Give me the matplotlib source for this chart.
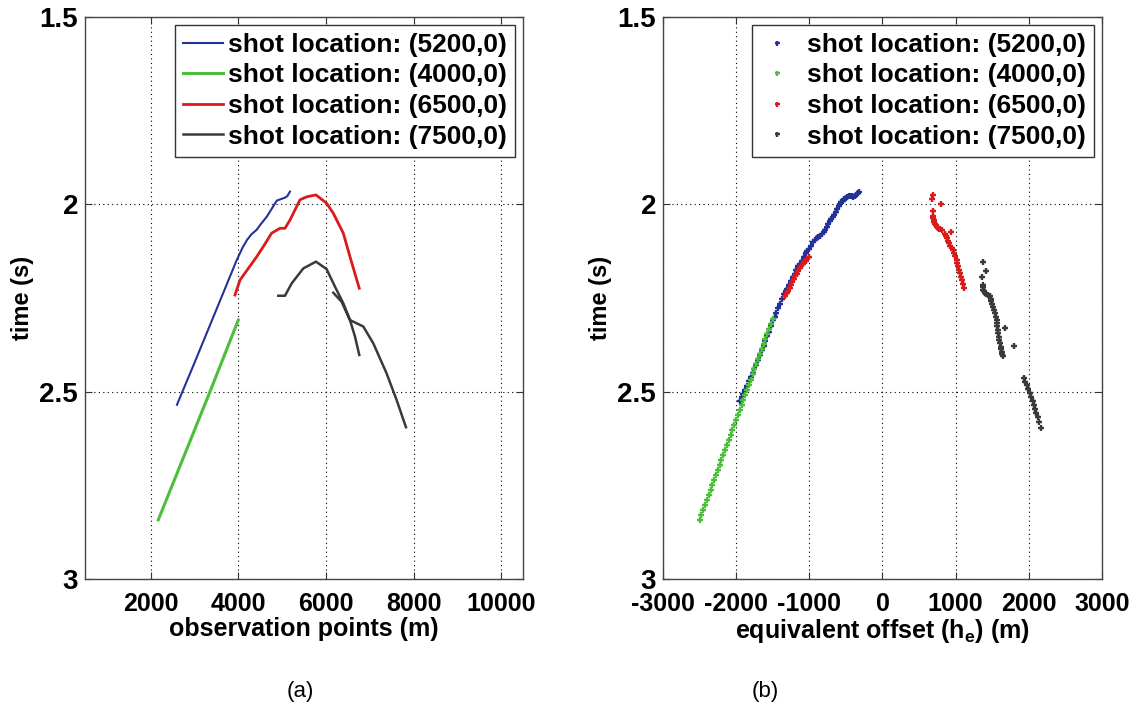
import matplotlib
matplotlib.use("Agg")
import matplotlib.pyplot as plt
import numpy as np

# ---- data ----
labels = ['shot location: (5200,0)', 'shot location: (4000,0)',
          'shot location: (6500,0)', 'shot location: (7500,0)']
colors = ['#23329a', '#4cbf3a', '#dd1a1a', '#3a3a3a']

# (a) observation points vs time
blue_x = [2600, 3000, 3500, 3960, 4100, 4200, 4300, 4420, 4500, 4650, 4800, 4880, 5000, 5070, 5120, 5180]
blue_t = [2.535, 2.423, 2.281, 2.150, 2.115, 2.095, 2.080, 2.068, 2.055, 2.033, 2.005, 1.990, 1.985, 1.982, 1.978, 1.966]

green_x = [2174, 3354, 4000]
green_t = [2.842, 2.500, 2.309]

red_x = [3925, 4039, 4419, 4571, 4761, 4952, 5066, 5180, 5408, 5561, 5774, 6016, 6169, 6397, 6550, 6762]
red_t = [2.242, 2.202, 2.140, 2.113, 2.077, 2.064, 2.064, 2.042, 1.988, 1.980, 1.975, 1.997, 2.024, 2.077, 2.140, 2.224]

black_x = [4913, 5066, 5219, 5485, 5774, 6016, 6208, 6397, 6550, 6664, 6762, np.nan,
           6169, 6358, 6550, 6853, 7082, 7385, 7614, 7828]
black_t = [2.244, 2.244, 2.211, 2.171, 2.153, 2.173, 2.220, 2.264, 2.309, 2.353, 2.402, np.nan,
           2.236, 2.260, 2.309, 2.326, 2.371, 2.451, 2.522, 2.595]

# (b) equivalent offset vs time
blue_h = [-1950, -1925, -1900, -1875, -1850, -1825, -1800, -1775, -1750, -1725, -1700, -1675,
          -1650, -1625, -1600, -1575, -1550, -1525, -1500, -1475, -1450, -1425, -1400, -1375,
          -1350, -1325, -1300, -1275, -1250, -1225, -1200, -1175, -1150, -1125, -1100, -1075,
          -1050, -1025, -1000, -975, -950, -925, -900, -875, -850, -825, -800, -780,
          -760, -740, -720, -700, -680, -660, -640, -620, -600, -580, -560, -540, -520, -500,
          -480, -460, -440, -420, -400, -380, -360, -340, -320]
blue_ht = [2.525, 2.515, 2.505, 2.495, 2.485, 2.472, 2.460, 2.450, 2.440, 2.428, 2.415, 2.402,
           2.390, 2.378, 2.365, 2.352, 2.340, 2.325, 2.310, 2.300, 2.290, 2.278, 2.265, 2.252,
           2.240, 2.232, 2.225, 2.215, 2.205, 2.195, 2.185, 2.175, 2.165, 2.158, 2.150, 2.140,
           2.130, 2.125, 2.120, 2.110, 2.100, 2.095, 2.090, 2.088, 2.085, 2.080, 2.075, 2.068,
           2.060, 2.052, 2.045, 2.040, 2.035, 2.028, 2.020, 2.012, 2.005, 2.000, 1.995, 1.990,
           1.987, 1.983, 1.980, 1.979, 1.978, 1.979, 1.980, 1.978, 1.975, 1.970, 1.966]

green_h = [-2500, -2475, -2450, -2425, -2400, -2375, -2350, -2325, -2300, -2275, -2250, -2225,
           -2200, -2175, -2150, -2125, -2100, -2075, -2050, -2025, -2000, -1975, -1950, -1925,
           -1900, -1875, -1850, -1825, -1800, -1775, -1750, -1725, -1700, -1675, -1650, -1625,
           -1600, -1575, -1550, -1525, -1500]
green_ht = [2.842, 2.828, 2.815, 2.803, 2.790, 2.776, 2.762, 2.750, 2.737, 2.722, 2.708, 2.696,
            2.683, 2.669, 2.655, 2.643, 2.630, 2.616, 2.602, 2.589, 2.575, 2.561, 2.548, 2.535,
            2.522, 2.508, 2.495, 2.481, 2.468, 2.454, 2.440, 2.427, 2.413, 2.400, 2.387, 2.373,
            2.360, 2.346, 2.333, 2.320, 2.306]

red_h = [-1330, -1310, -1290, -1270, -1250, -1230, -1210, -1190, -1170, -1150, -1130, -1110,
         -1090, -1070, -1050, -1025, -1000,
         694, 671, 794, 694, 694, 697, 700, 710, 720, 730, 740, 755, 770, 790, 808, 932, 850,
         865, 877, 895, 910, 928, 945, 960, 975, 995, 1013, 1025, 1035, 1047, 1059, 1072,
         1085, 1100, 1114]
red_ht = [2.245, 2.238, 2.232, 2.224, 2.215, 2.208, 2.200, 2.192, 2.185, 2.178, 2.170, 2.164,
          2.158, 2.154, 2.150, 2.145, 2.140,
          1.975, 1.987, 2.000, 2.017, 2.030, 2.036, 2.042, 2.047, 2.052, 2.056, 2.060, 2.063,
          2.065, 2.067, 2.068, 2.075, 2.080, 2.085, 2.091, 2.098, 2.104, 2.110, 2.117, 2.123,
          2.130, 2.139, 2.148, 2.156, 2.165, 2.174, 2.184, 2.193, 2.203, 2.213, 2.224]

black_h = [1369, 1414, 1356, 1369, 1372, 1375, 1388, 1401, 1420, 1440, 1455, 1469, 1480, 1490,
           1502, 1514, 1525, 1535, 1548, 1560, 1565, 1570, 1577, 1583, 1592, 1600, 1608, 1615,
           1622, 1630, 1640, 1651, 1674, 1801, 1934, 1952, 1970, 1993, 2016, 2034, 2052, 2068,
           2084, 2102, 2121, 2140, 2162]
black_ht = [2.153, 2.177, 2.193, 2.215, 2.222, 2.228, 2.232, 2.237, 2.240, 2.242, 2.244, 2.246,
            2.252, 2.258, 2.265, 2.273, 2.281, 2.290, 2.300, 2.309, 2.317, 2.325, 2.335, 2.344,
            2.353, 2.362, 2.371, 2.380, 2.386, 2.393, 2.399, 2.405, 2.331, 2.377, 2.464, 2.473,
            2.482, 2.493, 2.504, 2.515, 2.525, 2.536, 2.547, 2.557, 2.567, 2.580, 2.596]

yticks = [1.5, 2, 2.5, 3]
ytick_labels = ['1.5', '2', '2.5', '3']
xticks_a = [2000, 4000, 6000, 8000, 10000]
xticks_b = [-3000, -2000, -1000, 0, 1000, 2000, 3000]

plt.rcParams['font.family'] = ['Liberation Sans', 'DejaVu Sans']
plt.rcParams['mathtext.fontset'] = 'custom'
plt.rcParams['mathtext.rm'] = 'Liberation Sans:bold'
plt.rcParams['mathtext.it'] = 'Liberation Sans:bold'
plt.rcParams['mathtext.bf'] = 'Liberation Sans:bold'

fig = plt.figure(figsize=(11.36, 7.19), dpi=100)
ax1 = fig.add_axes([0.0748, 0.1947, 0.3856, 0.7817])
ax2 = fig.add_axes([0.5836, 0.1947, 0.3864, 0.7817])


def style(ax, xticks, xlim, xlabel):
    ax.set_xlim(*xlim)
    ax.set_ylim(3, 1.5)
    ax.set_xticks(xticks)
    ax.set_xticklabels([str(v) for v in xticks], fontweight='bold', fontsize=18)
    ax.set_yticks(yticks)
    ax.set_yticklabels(ytick_labels, fontweight='bold', fontsize=20)
    ax.tick_params(direction='in', top=True, right=True, length=5, width=0.8,
                   color='#333333', pad=5)
    ax.tick_params(axis='x', pad=9)
    ax.grid(True, linestyle=(0, (1, 3)), color='black', linewidth=0.8)
    for s in ax.spines.values():
        s.set_color('#444444')
        s.set_linewidth(1.0)
    ax.set_xlabel(xlabel, fontweight='bold', fontsize=18, labelpad=1)
    ax.set_ylabel('time (s)', fontweight='bold', fontsize=17, labelpad=4)


ax1.plot(blue_x, blue_t, color=colors[0], lw=1.5, label=labels[0])
ax1.plot(green_x, green_t, color=colors[1], lw=2.2, label=labels[1])
ax1.plot(red_x, red_t, color=colors[2], lw=2.0, label=labels[2])
ax1.plot(black_x, black_t, color=colors[3], lw=1.8, label=labels[3])
style(ax1, xticks_a, (500, 10500), 'observation points (m)')
leg1 = ax1.legend(loc='upper right', prop={'weight': 'bold', 'size': 19},
                  handlelength=1.5, handletextpad=0.2, labelspacing=0.25, borderpad=0.3,
                  borderaxespad=0.3, fancybox=False, framealpha=1)
leg1.get_frame().set_edgecolor('#333333')
leg1.get_frame().set_linewidth(1.0)

for h, t, c, lab in [(blue_h, blue_ht, colors[0], labels[0]),
                     (green_h, green_ht, colors[1], labels[1]),
                     (red_h, red_ht, colors[2], labels[2]),
                     (black_h, black_ht, colors[3], labels[3])]:
    ax2.plot(h, t, ls='none', marker='+', ms=4.5, mew=1.7, color=c, label=lab)
style(ax2, xticks_b, (-3000, 3000), r'equivalent offset (h$_{e}$) (m)')
leg2 = ax2.legend(loc='upper right', prop={'weight': 'bold', 'size': 19},
                  handlelength=1.3, handletextpad=0.5, labelspacing=0.25, borderpad=0.3,
                  borderaxespad=0.3, fancybox=False, framealpha=1, markerscale=0.8)
leg2.get_frame().set_edgecolor('#333333')
leg2.get_frame().set_linewidth(1.0)

fig.text(0.2641, 0.038, '(a)', ha='center', va='center', fontsize=16)
fig.text(0.6734, 0.038, '(b)', ha='center', va='center', fontsize=16)

fig.savefig('out.png', dpi=100)
